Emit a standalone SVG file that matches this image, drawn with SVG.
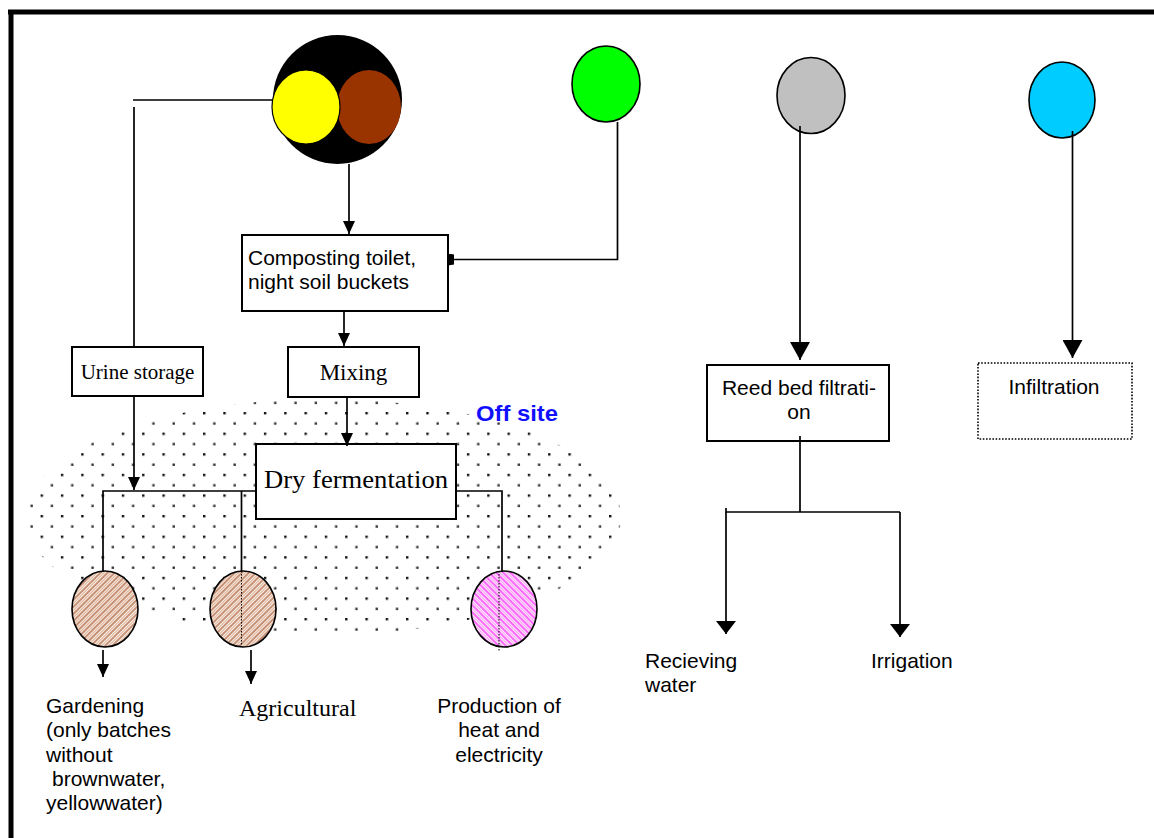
<svg xmlns="http://www.w3.org/2000/svg" width="1154" height="838" viewBox="0 0 1154 838">
<style>
  .box{fill:#fff;stroke:#000;stroke-width:2}
  .ln{fill:none;stroke:#000;stroke-width:1.7}
  .dotln{fill:none;stroke:#000;stroke-width:1;stroke-dasharray:1.5 1.5}
  .sans{font-family:"Liberation Sans",Arial,sans-serif;font-size:21px;fill:#000}
  .serif{font-family:"Liberation Serif","Times New Roman",serif;fill:#000}
  .bulb{stroke:#000;stroke-width:1.6}
  .out{stroke:#000;stroke-width:1.6}
</style>
<defs>
  <marker id="ah" markerUnits="userSpaceOnUse" viewBox="0 0 13 12" markerWidth="13" markerHeight="12" refX="13" refY="6" orient="auto">
    <path d="M0,0 L13,6 L0,12 z" fill="#000"/>
  </marker>
  <marker id="ahL" markerUnits="userSpaceOnUse" viewBox="0 0 18 20" markerWidth="18" markerHeight="20" refX="18" refY="10" orient="auto">
    <path d="M0,0 L18,10 L0,20 z" fill="#000"/>
  </marker>
  <marker id="ahM" markerUnits="userSpaceOnUse" viewBox="0 0 13 20" markerWidth="13" markerHeight="20" refX="13" refY="10" orient="auto">
    <path d="M0,0 L13,10 L0,20 z" fill="#000"/>
  </marker>
  <marker id="tail" markerUnits="userSpaceOnUse" viewBox="0 0 6 12" markerWidth="6" markerHeight="12" refX="6" refY="6" orient="auto">
    <path d="M0,1 L6,0 L6,12 L0,11 z" fill="#000"/>
  </marker>
  <pattern id="dots" patternUnits="userSpaceOnUse" width="20.3" height="20.6">
    <rect x="0" y="0" width="2.4" height="2.4" fill="#111"/>
    <rect x="10.15" y="10.3" width="2.4" height="2.4" fill="#333"/>
  </pattern>
  <pattern id="hatchBrown" patternUnits="userSpaceOnUse" width="5" height="5" patternTransform="rotate(45)">
    <rect width="5" height="5" fill="#fff"/>
    <line x1="1" y1="0" x2="1" y2="5" stroke="#993300" stroke-width="1.1"/>
    <line x1="3.5" y1="0" x2="3.5" y2="5" stroke="#deb294" stroke-width="1.4"/>
  </pattern>
  <pattern id="hatchPink" patternUnits="userSpaceOnUse" width="5" height="5" patternTransform="rotate(-45)">
    <rect width="5" height="5" fill="#fff"/>
    <line x1="1" y1="0" x2="1" y2="5" stroke="#ff00ff" stroke-width="1.2"/>
    <line x1="3.5" y1="0" x2="3.5" y2="5" stroke="#f5a8ef" stroke-width="1.5"/>
  </pattern>
</defs>

<rect width="1154" height="838" fill="#fff"/>

<!-- page frame -->
<path d="M8,12 H1154 M11,9.5 V838" fill="none" stroke="#000" stroke-width="5"/>

<!-- off-site zone -->
<g id="offsite">
  <ellipse cx="323" cy="517" rx="298" ry="118" fill="url(#dots)"/>
  <text x="476" y="421" font-family="'Liberation Sans',Arial,sans-serif" font-size="22" font-weight="bold" fill="#1010ff" textLength="82" lengthAdjust="spacingAndGlyphs">Off site</text>
</g>

<!-- sources -->
<g id="source-toilet">
  <circle cx="337.5" cy="99.5" r="64.5" fill="#000"/>
  <ellipse cx="369" cy="107" rx="32" ry="37" fill="#993300"/>
  <ellipse cx="306" cy="107" rx="34" ry="37" fill="#ffff00" stroke="#000" stroke-width="1.2"/>
</g>
<g id="source-green"><ellipse class="bulb" cx="606" cy="84" rx="34" ry="38" fill="#00ff00"/></g>
<g id="source-grey"><ellipse class="bulb" cx="811" cy="95.5" rx="34" ry="38" fill="#c0c0c0"/></g>
<g id="source-blue"><ellipse class="bulb" cx="1062" cy="100" rx="33" ry="38" fill="#00ccff"/></g>

<!-- process boxes -->
<g id="composting">
  <rect class="box" x="242" y="235" width="206" height="76"/>
  <text class="sans" x="248" y="265">Composting toilet,</text>
  <text class="sans" x="248" y="289">night soil buckets</text>
</g>
<g id="urine-storage">
  <rect class="box" x="72" y="347" width="131" height="49"/>
  <text class="serif" x="137.5" y="379" font-size="21" text-anchor="middle">Urine storage</text>
</g>
<g id="mixing">
  <rect class="box" x="288" y="347" width="131" height="50"/>
  <text class="serif" x="353.5" y="380" font-size="23" text-anchor="middle">Mixing</text>
</g>
<g id="dry-fermentation">
  <rect class="box" x="256" y="444" width="200" height="75"/>
  <text class="serif" x="356" y="488" font-size="26" text-anchor="middle" textLength="184" lengthAdjust="spacingAndGlyphs">Dry fermentation</text>
</g>
<g id="reed-bed">
  <rect class="box" x="707" y="365" width="182" height="76"/>
  <text class="sans" x="799" y="395" text-anchor="middle">Reed bed filtrati-</text>
  <text class="sans" x="799" y="419" text-anchor="middle">on</text>
</g>
<g id="infiltration">
  <rect x="978" y="363" width="154" height="76" fill="#fff" stroke="#000" stroke-width="1.6" stroke-dasharray="1.6 1.6"/>
  <text class="sans" x="1054" y="394" text-anchor="middle">Infiltration</text>
</g>

<!-- end uses -->
<g id="use-gardening">
  <ellipse class="out" cx="105" cy="609" rx="33" ry="38" fill="url(#hatchBrown)"/>
  <text class="sans" x="46" y="713">Gardening</text>
  <text class="sans" x="46" y="737">(only batches</text>
  <text class="sans" x="46" y="762">without</text>
  <text class="sans" x="52" y="786">brownwater,</text>
  <text class="sans" x="46" y="810">yellowwater)</text>
</g>
<g id="use-agricultural">
  <ellipse class="out" cx="243" cy="609" rx="33" ry="38" fill="url(#hatchBrown)"/>
  <text class="serif" x="239" y="716" font-size="24">Agricultural</text>
</g>
<g id="use-energy">
  <ellipse class="out" cx="504" cy="609" rx="33" ry="38" fill="url(#hatchPink)"/>
  <text class="sans" x="499" y="713" text-anchor="middle">Production of</text>
  <text class="sans" x="499" y="737" text-anchor="middle">heat and</text>
  <text class="sans" x="499" y="762" text-anchor="middle">electricity</text>
</g>
<g id="use-receiving">
  <text class="sans" x="645" y="668">Recieving</text>
  <text class="sans" x="645" y="692">water</text>
</g>
<g id="use-irrigation">
  <text class="sans" x="871" y="668">Irrigation</text>
</g>

<!-- connectors -->
<g id="connectors">
  <path class="ln" d="M272,100 H133 M134,107 V347"/>
  <path class="ln" d="M134,396 V490" marker-end="url(#ah)"/>
  <path class="ln" d="M349,164 V234" marker-end="url(#ah)"/>
  <path class="ln" d="M617.5,122 V259.5 H448" marker-end="url(#tail)"/>
  <path class="ln" d="M344,311 V346" marker-end="url(#ah)"/>
  <path class="ln" d="M347,397 V446" marker-end="url(#ah)"/>
  <path class="ln" d="M256,491 H103 V571 M241.5,491 V571 M456,491 H502 V571"/>
  <path class="dotln" d="M241.5,571 V647 M499,571 V652"/>
  <path class="ln" d="M103,650 V677" marker-end="url(#ah)"/>
  <path class="ln" d="M251,650 V684" marker-end="url(#ah)"/>
  <path class="ln" d="M800,126 V360" marker-end="url(#ahL)"/>
  <path class="ln" d="M1072.5,131 V358" marker-end="url(#ahL)"/>
  <path class="ln" d="M800,436 V512 M726,508 V512 H900"/>
  <path class="ln" d="M726,512 V634" marker-end="url(#ahM)"/>
  <path class="ln" d="M900,512 V637" marker-end="url(#ahM)"/>
</g>
</svg>
